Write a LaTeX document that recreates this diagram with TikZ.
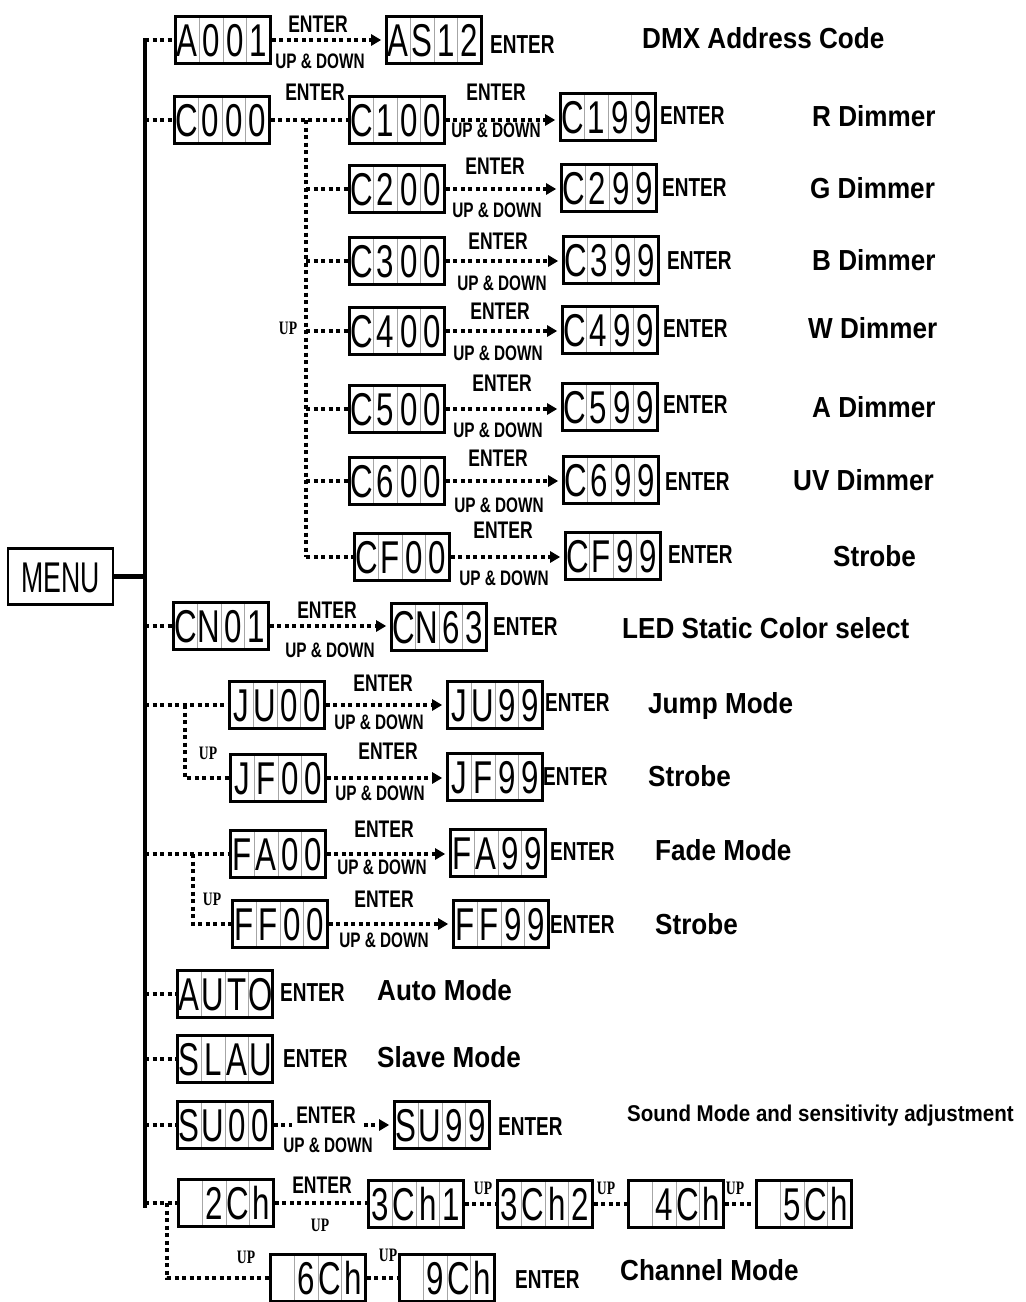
\documentclass[tikz,border=0pt]{standalone}
\usepackage{fontspec}
\setmainfont{Liberation Sans}
\newfontfamily\lcdfont[FakeStretch=0.68]{Liberation Sans}
\newfontfamily\narrowfont[FakeStretch=0.73]{Liberation Sans}
\newfontfamily\lblfont[FakeStretch=0.9]{Liberation Sans}
\newfontfamily\upfont[FakeStretch=0.72]{Liberation Serif}
\newfontfamily\menufont[FakeStretch=0.62]{Liberation Sans}
\usetikzlibrary{arrows.meta,calc}
\newcommand\dig[4]{\makebox[23.75pt]{#1}\makebox[23.75pt]{#2}\makebox[23.75pt]{#3}\makebox[23.75pt]{#4}}
\tikzset{
  lcd/.style={draw, line width=2.6pt, minimum width=95pt, minimum height=47pt, inner sep=0pt,
    font=\lcdfont\fontsize{46}{46}\selectfont, text height=33pt, text depth=0pt,
    path picture={\foreach \f in {0.25,0.5,0.75}{\draw[black!35,line width=0.8pt]
      ($(path picture bounding box.south west)!\f!(path picture bounding box.south east)$) --
      ($(path picture bounding box.north west)!\f!(path picture bounding box.north east)$);}}},
  menubox/.style={draw, line width=2.6pt, minimum width=105pt, minimum height=56pt, inner sep=0pt,
    font=\menufont\fontsize{43}{43}\selectfont, text height=31pt, text depth=0pt},
  mainline/.style={line width=4.5pt},
  dot/.style={line width=4pt, dash pattern=on 4pt off 3.5pt},
  arr/.style={dot, -{Triangle[length=10pt,width=11pt]}, shorten >=4pt},
  ent/.style={font=\narrowfont\bfseries\fontsize{24}{24}\selectfont, inner sep=0pt, text height=17pt, text depth=0pt},
  tent/.style={font=\narrowfont\bfseries\fontsize{26}{26}\selectfont, inner sep=0pt, text height=18.6pt, text depth=0pt, anchor=west},
  updown/.style={font=\narrowfont\bfseries\fontsize{21}{21}\selectfont, inner sep=0pt, text height=15pt, text depth=0pt},
  upl/.style={font=\upfont\bfseries\fontsize{19}{19}\selectfont, inner sep=0pt, text height=12.6pt, text depth=0pt},
  lbl/.style={font=\lblfont\bfseries\fontsize{29}{29}\selectfont, inner sep=0pt, text height=20.8pt, text depth=0pt, anchor=west},
  slbl/.style={font=\lblfont\bfseries\fontsize{22.8}{23}\selectfont, inner sep=0pt, text height=16.4pt, text depth=0pt, anchor=west},
}
\begin{document}
\begin{tikzpicture}[x=1pt,y=-1pt]
\useasboundingbox[fill=white] (0,0) rectangle (1026,1302);

% MENU and main bus
\node[menubox] (menu) at (60.5,576.5) {MENU};
\coordinate (mt) at (145,38);
\coordinate (mb) at (145,1208);
\draw[mainline] (mt) -- (mb);
\draw[mainline] (menu.east) -- (menu.east -| mt);

% displays
\node[lcd] (a001) at (223,40) {\dig A001};
\node[lcd] (as12) at (434,40) {\dig AS12};
\node[lcd] (c000) at (222,120) {\dig C000};
\node[lcd] (c100) at (397,120) {\dig C100};
\node[lcd] (c199) at (608,117) {\dig C199};
\node[lcd] (c200) at (397,189) {\dig C200};
\node[lcd] (c299) at (609,188) {\dig C299};
\node[lcd] (c300) at (397,261) {\dig C300};
\node[lcd] (c399) at (611,260) {\dig C399};
\node[lcd] (c400) at (397,331) {\dig C400};
\node[lcd] (c499) at (610,330) {\dig C499};
\node[lcd] (c500) at (397,409) {\dig C500};
\node[lcd] (c599) at (610,407) {\dig C599};
\node[lcd] (c600) at (397,481) {\dig C600};
\node[lcd] (c699) at (611,480) {\dig C699};
\node[lcd] (cf00) at (402,557) {\dig CF00};
\node[lcd] (cf99) at (613,556) {\dig CF99};
\node[lcd] (cn01) at (221,626) {\dig CN01};
\node[lcd] (cn63) at (439,627) {\dig CN63};
\node[lcd] (ju00) at (277,705) {\dig JU00};
\node[lcd] (ju99) at (495,705) {\dig JU99};
\node[lcd] (jf00) at (278,778) {\dig JF00};
\node[lcd] (jf99) at (495,777) {\dig JF99};
\node[lcd] (fa00) at (278,854) {\dig FA00};
\node[lcd] (fa99) at (498,853) {\dig FA99};
\node[lcd] (ff00) at (280,924) {\dig FF00};
\node[lcd] (ff99) at (501,924) {\dig FF99};
\node[lcd] (auto) at (225,994) {\dig AUTO};
\node[lcd] (slau) at (225,1059) {\dig SLAU};
\node[lcd] (su00) at (225,1125) {\dig SU00};
\node[lcd] (su99) at (442,1125) {\dig SU99};
\node[lcd] (ch2) at (226,1203) {\dig{}2Ch};
\node[lcd] (ch31) at (416,1204) {\dig 3Ch1};
\node[lcd] (ch32) at (545,1204) {\dig 3Ch2};
\node[lcd] (ch4) at (676,1204) {\dig{}4Ch};
\node[lcd] (ch5) at (804,1204) {\dig{}5Ch};
\node[lcd] (ch6) at (318,1278) {\dig{}6Ch};
\node[lcd] (ch9) at (447,1278) {\dig{}9Ch};

% stubs from the bus
\foreach \n in {a001,c000,cn01,ju00,fa00,auto,slau,su00,ch2}
  \draw[dot] (mt |- \n) -- (\n.west);

% DMX row
\draw[arr] (a001.east) -- (a001.east -| as12.west);
% C group
\coordinate (cb) at (306,120);
\draw[dot] (c000.east) -- (c000.east -| c100.west);
\draw[dot] (cb) -- (cb |- cf00);
\foreach \n in {c200,c300,c400,c500,c600,cf00}
  \draw[dot] (cb |- \n) -- (\n.west);
\draw[arr] (c100.east) -- (c100.east -| c199.west);
\draw[arr] (c200.east) -- (c200.east -| c299.west);
\draw[arr] (c300.east) -- (c300.east -| c399.west);
\draw[arr] (c400.east) -- (c400.east -| c499.west);
\draw[arr] (c500.east) -- (c500.east -| c599.west);
\draw[arr] (c600.east) -- (c600.east -| c699.west);
\draw[arr] (cf00.east) -- (cf00.east -| cf99.west);
% CN
\draw[arr] (cn01.east) -- (cn01.east -| cn63.west);
% J group
\coordinate (jb) at (185,705);
\draw[dot] (jb) -- (jb |- jf00) -- (jf00.west);
\draw[arr] (ju00.east) -- (ju00.east -| ju99.west);
\draw[arr] (jf00.east) -- (jf00.east -| jf99.west);
% F group
\coordinate (fb) at (193,854);
\draw[dot] (fb) -- (fb |- ff00) -- (ff00.west);
\draw[arr] (fa00.east) -- (fa00.east -| fa99.west);
\draw[arr] (ff00.east) -- (ff00.east -| ff99.west);
% SU
\draw[arr] (su00.east) -- (su00.east -| su99.west);
% channel group
\coordinate (chb) at (167,1203);
\draw[dot] (chb) -- (chb |- ch6) -- (ch6.west);
\draw[dot] (ch2.east) -- (ch2.east -| ch31.west);
\draw[dot] (ch31.east) -- (ch31.east -| ch32.west);
\draw[dot] (ch32.east) -- (ch32.east -| ch4.west);
\draw[dot] (ch4.east) -- (ch4.east -| ch5.west);
\draw[dot] (ch6.east) -- (ch6.east -| ch9.west);

% mid labels
\node[ent] (e1) at (318,24) {ENTER};
\node[updown] (u1) at (320,61) {UP \& DOWN};
\node[ent] (e2) at (315,92) {ENTER};
\node[ent] (e3) at (496,92) {ENTER};
\node[updown] (u3) at (496,130) {UP \& DOWN};
\node[ent] (e4) at (495,166) {ENTER};
\node[updown] (u4) at (497,210) {UP \& DOWN};
\node[ent] (e5) at (498,241) {ENTER};
\node[updown] (u5) at (502,283) {UP \& DOWN};
\node[ent] (e6) at (500,311) {ENTER};
\node[updown] (u6) at (498,353) {UP \& DOWN};
\node[ent] (e7) at (502,383) {ENTER};
\node[updown] (u7) at (498,430) {UP \& DOWN};
\node[ent] (e8) at (498,458) {ENTER};
\node[updown] (u8) at (499,505) {UP \& DOWN};
\node[ent] (e9) at (503,530) {ENTER};
\node[updown] (u9) at (504,578) {UP \& DOWN};
\node[ent] (e10) at (327,610) {ENTER};
\node[updown] (u10) at (330,650) {UP \& DOWN};
\node[ent] (e11) at (383,683) {ENTER};
\node[updown] (u11) at (379,722) {UP \& DOWN};
\node[ent] (e12) at (388,751) {ENTER};
\node[updown] (u12) at (380,793) {UP \& DOWN};
\node[ent] (e13) at (384,829) {ENTER};
\node[updown] (u13) at (382,867) {UP \& DOWN};
\node[ent] (e14) at (384,899) {ENTER};
\node[updown] (u14) at (384,940) {UP \& DOWN};
\node[ent, fill=white, inner sep=4pt] (e15) at (326,1115) {ENTER};
\node[updown] (u15) at (328,1145) {UP \& DOWN};
\node[ent] (e16) at (322,1185) {ENTER};
\node[upl] (up16) at (320,1225) {UP};
\node[upl] (upc) at (288,328) {UP};
\node[upl] (upj) at (208,753) {UP};
\node[upl] (upf) at (212,899) {UP};
\node[upl] (up3a) at (483,1188) {UP};
\node[upl] (up3b) at (606,1188) {UP};
\node[upl] (up4) at (735,1188) {UP};
\node[upl] (up6) at (246,1257) {UP};
\node[upl] (up9) at (388,1255) {UP};

% terminal ENTER
\node[tent] (t1) at (490,44) {ENTER};
\node[tent] (t2) at (660,115) {ENTER};
\node[tent] (t3) at (662,187) {ENTER};
\node[tent] (t4) at (667,260) {ENTER};
\node[tent] (t5) at (663,328) {ENTER};
\node[tent] (t6) at (663,404) {ENTER};
\node[tent] (t7) at (665,481) {ENTER};
\node[tent] (t8) at (668,554) {ENTER};
\node[tent] (t9) at (493,626) {ENTER};
\node[tent] (t10) at (545,702) {ENTER};
\node[tent] (t11) at (543,776) {ENTER};
\node[tent] (t12) at (550,851) {ENTER};
\node[tent] (t13) at (550,924) {ENTER};
\node[tent] (t14) at (280,992) {ENTER};
\node[tent] (t15) at (283,1058) {ENTER};
\node[tent] (t16) at (498,1126) {ENTER};
\node[tent] (t17) at (515,1279) {ENTER};

% right labels
\node[lbl] (l1) at (642,38) {DMX Address Code};
\node[lbl] (l2) at (812,116) {R Dimmer};
\node[lbl] (l3) at (810,188) {G Dimmer};
\node[lbl] (l4) at (812,260) {B Dimmer};
\node[lbl] (l5) at (808,328) {W Dimmer};
\node[lbl] (l6) at (812,407) {A Dimmer};
\node[lbl] (l7) at (793,480) {UV Dimmer};
\node[lbl] (l8) at (833,556) {Strobe};
\node[lbl] (l9) at (622,628) {LED Static Color select};
\node[lbl] (l10) at (648,703) {Jump Mode};
\node[lbl] (l11) at (648,776) {Strobe};
\node[lbl] (l12) at (655,850) {Fade Mode};
\node[lbl] (l13) at (655,924) {Strobe};
\node[lbl] (l14) at (377,990) {Auto Mode};
\node[lbl] (l15) at (377,1057) {Slave Mode};
\node[slbl] (l16) at (627,1113) {Sound Mode and sensitivity adjustment};
\node[lbl] (l17) at (620,1270) {Channel Mode};
\end{tikzpicture}
\end{document}
